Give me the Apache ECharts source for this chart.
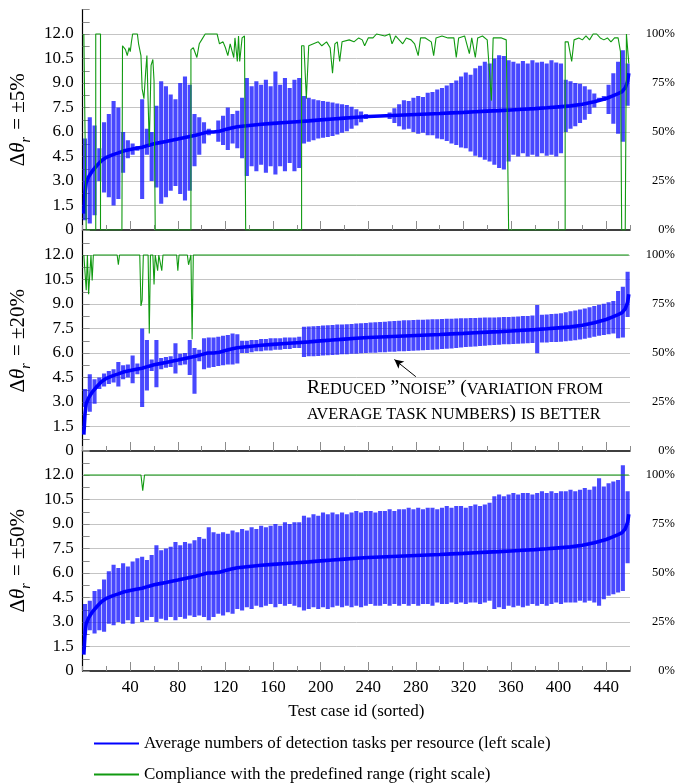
<!DOCTYPE html>
<html>
<head>
<meta charset="utf-8">
<script src="https://cdn.jsdelivr.net/npm/echarts@6/dist/echarts.min.js"></script>
<style>
  html, body { margin: 0; padding: 0; background: #fff; }
  #chart { width: 678px; height: 783px; }
</style>
</head>
<body>
<div id="chart"></div>
<script>
// ---- x axis: test case ids (sorted by average task count) ----
const xTickLabels = [40, 80, 120, 160, 200, 240, 280, 320, 360, 400, 440];

// ---- average number of detection tasks per resource (same test set in every panel) ----
const avgIds = [1, 2, 3, 5, 8, 12, 16, 20, 25, 30, 35, 40, 45, 50, 55, 60, 65, 70, 75, 80, 85, 90, 95, 100, 105,
  110, 115, 120, 125, 130, 140, 150, 160, 170, 180, 190, 200, 210, 220, 230, 240, 250, 260, 270, 280, 290, 300,
  310, 320, 330, 340, 350, 360, 370, 380, 390, 400, 410, 420, 430, 440, 445, 450, 453, 456, 458, 459];
const avgTasks = [1.0, 2.3, 2.9, 3.25, 3.6, 3.95, 4.25, 4.45, 4.6, 4.72, 4.85, 4.93, 5.0, 5.07, 5.18, 5.28, 5.35,
  5.42, 5.5, 5.57, 5.65, 5.73, 5.8, 5.9, 6.0, 6.0, 6.05, 6.15, 6.25, 6.32, 6.4, 6.47, 6.53, 6.58, 6.63, 6.68, 6.74,
  6.8, 6.85, 6.9, 6.95, 6.98, 7.01, 7.04, 7.07, 7.1, 7.13, 7.17, 7.2, 7.24, 7.28, 7.31, 7.35, 7.39, 7.43, 7.48,
  7.54, 7.6, 7.7, 7.85, 8.05, 8.2, 8.35, 8.45, 8.7, 9.1, 9.6];

// ---- variation bars (min / max task count) ----
const barIds = [2, 6, 10, 14, 18, 22, 26, 30, 34, 38, 42, 46, 50, 54, 58, 62, 66, 70, 74, 78, 82, 86, 90, 94, 98,
  102, 106, 110, 114, 118, 122, 126, 130, 134, 138, 142, 146, 150, 154, 158, 162, 166, 170, 174, 178, 182, 186,
  190, 194, 198, 202, 206, 210, 214, 218, 222, 226, 230, 234, 238, 242, 246, 250, 254, 258, 262, 266, 270, 274,
  278, 282, 286, 290, 294, 298, 302, 306, 310, 314, 318, 322, 326, 330, 334, 338, 342, 346, 350, 354, 358, 362,
  366, 370, 374, 378, 382, 386, 390, 394, 398, 402, 406, 410, 414, 418, 422, 426, 430, 434, 438, 442, 446, 450,
  454, 458];

// range +-5 %
const low5 = [0.6, 0.4, 0.9, 3.0, 2.3, 2.0, 1.5, 1.9, 3.5, 4.4,
  4.6, 4.85, 1.9, 4.6, 3.0, 2.6, 1.6, 2.0, 2.4, 2.7,
  2.2, 1.8, 2.4, 3.9, 4.6, 5.3, 5.8, 5.95, 5.4, 5.2,
  4.9, 5.3, 5.0, 4.4, 3.3, 3.9, 3.6, 4.0, 3.5, 3.9,
  3.4, 3.9, 3.6, 4.1, 3.6, 3.8, 5.3, 5.4, 5.5, 5.6,
  5.65, 5.7, 5.75, 5.85, 5.95, 6.05, 6.2, 6.4, 6.6, 6.8,
  6.93, null, null, null, 6.8, 6.55, 6.35, 6.15, 6.2, 6.0,
  5.9, 5.95, 5.8, 5.8, 5.6, 5.55, 5.45, 5.3, 5.2, 5.05,
  5.0, 4.8, 4.55, 4.45, 4.3, 4.2, 4.0, 3.8, 3.7, 4.2,
  4.6, 4.5, 4.7, 4.5, 4.6, 4.5, 4.7, 4.55, 4.6, 4.5,
  4.7, 6.0, 6.2, 6.35, 6.55, 6.75, 7.1, 7.5, 7.95, 7.9,
  7.1, 6.5, 5.9, 5.4, 7.6];
const high5 = [5.6, 6.9, 6.4, 5.0, 6.6, 7.1, 7.9, 7.5, 6.0, 5.5,
  5.3, 5.15, 8.0, 6.2, 6.0, 7.6, 9.1, 8.8, 8.3, 8.0,
  9.0, 9.4, 8.9, 7.1, 6.9, 6.6, 6.2, 6.05, 6.7, 7.0,
  7.5, 7.1, 7.3, 8.1, 9.3, 8.8, 9.1, 8.9, 9.2, 8.8,
  9.7, 8.9, 9.3, 8.7, 9.2, 9.3, 8.2, 8.1, 8.0, 7.95,
  7.9, 7.85, 7.8, 7.75, 7.7, 7.65, 7.55, 7.4, 7.25, 7.1,
  7.0, null, null, null, 7.2, 7.45, 7.7, 7.95, 7.9, 8.1,
  8.2, 8.15, 8.4, 8.45, 8.6, 8.7, 8.85, 9.0, 9.15, 9.4,
  9.65, 9.5, 9.9, 10.05, 10.3, 10.2, 10.5, 10.7, 10.65, 10.4,
  10.3, 10.2, 10.35, 10.2, 10.4, 10.25, 10.3, 10.2, 10.4, 10.25,
  10.2, 9.2, 9.1, 9.0, 8.95, 8.8, 8.6, 8.35, 8.1, 8.2,
  8.9, 9.6, 10.3, 11.0, 10.2];

// range +-20 %
const low20 = [2.7, 2.4, 2.9, 3.8, 3.95, 4.1, 4.2, 3.95, 4.4, 4.5,
  4.15, 4.7, 2.7, 3.7, 4.9, 3.9, 5.0, 5.1, 5.15, 4.75,
  5.25, 5.3, 4.65, 3.5, 5.5, 5.0, 5.1, 5.15, 5.2, 5.25,
  5.3, 5.3, 5.35, 6.0, 6.0, 6.05, 6.1, 6.1, 6.15, 6.15,
  6.2, 6.2, 6.25, 6.25, 6.3, 6.3, 5.75, 5.8, 5.8, 5.82,
  5.84, 5.86, 5.88, 5.9, 5.92, 5.93, 5.95, 5.96, 5.98, 6.0,
  6.01, 6.02, 6.04, 6.05, 6.07, 6.08, 6.1, 6.11, 6.12, 6.14,
  6.15, 6.17, 6.18, 6.2, 6.22, 6.24, 6.26, 6.28, 6.31, 6.34,
  6.36, 6.38, 6.4, 6.43, 6.45, 6.47, 6.49, 6.51, 6.53, 6.54,
  6.55, 6.57, 6.58, 6.59, 6.61, 5.98, 6.64, 6.65, 6.67, 6.68,
  6.69, 6.72, 6.75, 6.78, 6.82, 6.87, 6.93, 7.0, 7.05, 7.1,
  7.15, 7.2, 6.9, 6.95, 8.2];
const high20 = [3.8, 4.7, 4.4, 4.5, 4.75, 4.9, 5.0, 5.45, 5.25, 5.3,
  5.85, 5.35, 7.5, 6.8, 5.6, 6.8, 5.7, 5.75, 5.8, 6.6,
  5.95, 6.0, 6.8, 6.3, 6.2, 6.9, 6.95, 6.95, 7.0, 7.05,
  7.1, 7.2, 7.15, 6.75, 6.75, 6.8, 6.8, 6.85, 6.85, 6.9,
  6.9, 6.9, 6.95, 6.95, 6.95, 7.0, 7.6, 7.62, 7.64, 7.66,
  7.68, 7.7, 7.72, 7.74, 7.75, 7.76, 7.78, 7.8, 7.82, 7.84,
  7.86, 7.88, 7.9, 7.92, 7.94, 7.96, 7.98, 8.0, 8.01, 8.02,
  8.03, 8.04, 8.05, 8.06, 8.07, 8.08, 8.09, 8.1, 8.11, 8.12,
  8.13, 8.14, 8.15, 8.16, 8.17, 8.17, 8.18, 8.19, 8.2, 8.21,
  8.22, 8.24, 8.26, 8.27, 8.29, 8.94, 8.34, 8.36, 8.39, 8.41,
  8.43, 8.5, 8.55, 8.6, 8.66, 8.73, 8.8, 8.88, 8.95, 9.02,
  9.1, 9.18, 9.8, 10.05, 10.98];

// range +-50 %
const low50 = [2.2, 2.5, 2.3, 2.5, 2.4, 2.9, 2.8, 3.0, 2.9, 3.1,
  2.9, 3.3, 3.0, 3.1, 3.3, 3.0, 3.2, 3.1, 3.3, 3.1,
  3.3, 3.2, 3.4, 3.3, 3.4, 3.3, 3.1, 3.3, 3.5, 3.4,
  3.6, 3.5, 3.8, 3.7, 3.9, 3.8, 4.0, 3.9, 4.0, 4.1,
  3.9, 4.1, 4.0, 4.1, 4.0, 3.9, 3.7, 3.8, 3.9, 3.8,
  3.9, 3.8, 3.9, 4.0, 3.9, 4.0, 3.9, 4.0, 3.9, 4.0,
  4.1, 4.0, 4.0, 4.1, 4.0, 4.1, 4.0, 4.1, 4.0, 4.1,
  4.0, 4.1, 4.1, 4.0, 4.2, 4.1, 4.1, 4.2, 4.1, 4.2,
  4.1, 4.2, 4.2, 4.1, 4.2, 4.3, 3.8, 3.9, 3.8, 4.0,
  3.9, 4.0, 3.9, 4.0, 4.1, 4.0, 4.1, 4.0, 4.1, 4.2,
  4.1, 4.2, 4.2, 4.2, 4.3, 4.2, 4.3, 4.2, 4.0, 4.4,
  4.6, 4.7, 4.8, 4.9, 6.6];
const high50 = [4.1, 4.3, 4.9, 5.0, 5.6, 6.1, 6.5, 6.3, 6.6, 6.4,
  6.7, 6.9, 7.0, 6.8, 7.1, 7.7, 7.4, 7.5, 7.6, 7.9,
  7.7, 7.9, 7.8, 8.0, 8.2, 8.1, 8.8, 8.5, 8.4, 8.5,
  8.4, 8.6, 8.5, 8.7, 8.6, 8.8, 8.7, 8.9, 8.8, 8.9,
  9.0, 8.9, 9.1, 9.0, 9.1, 9.1, 9.5, 9.4, 9.6, 9.5,
  9.7, 9.6, 9.7, 9.6, 9.7, 9.6, 9.7, 9.8, 9.7, 9.8,
  9.8, 9.7, 9.8, 9.8, 9.9, 9.8, 9.9, 9.9, 10.0, 9.9,
  10.0, 9.9, 10.0, 10.0, 9.9, 10.0, 10.1, 10.0, 10.1, 10.1,
  10.0, 10.1, 10.2, 10.1, 10.2, 10.3, 10.7, 10.8, 10.7, 10.8,
  10.9, 10.8, 10.9, 10.9, 10.8, 10.9, 11.0, 10.9, 11.0, 10.9,
  11.0, 11.0, 11.1, 11.0, 11.1, 11.2, 11.1, 11.3, 11.8, 11.3,
  11.5, 11.6, 11.7, 12.6, 11.0];

// ---- compliance with the predefined range, [test case id, percent] ----
const compliance5 = [[1, 100], [2, 100], [3, 0], [11, 0], [11, 100], [15, 100], [15, 0], [33, 0], [33.5, 94],
  [36, 92], [37.5, 89], [39, 93], [40, 91], [41, 96], [42, 100], [46, 100], [47, 95], [49, 89], [50, 72],
  [51.5, 67], [53, 81], [54, 89], [56, 43], [57.5, 84], [59, 87], [60, 76], [61, 0], [91, 0], [91, 92], [93, 93],
  [96, 88], [98, 95], [100, 97], [103, 100], [113, 100], [115, 95], [118, 96], [120, 93], [122, 89], [124, 95],
  [127, 88], [128, 98], [130, 86], [131, 99], [132, 86], [134, 98], [136, 99], [137, 0], [184, 0], [184, 94],
  [186, 94], [188, 67], [190, 94], [194, 95], [198, 96], [201, 94], [205, 96], [208, 93], [210, 80], [212, 95],
  [214, 96], [216, 86], [218, 96], [224, 97], [228, 96], [232, 98], [235, 97], [237, 94], [240, 98], [244, 98],
  [247, 100], [254, 99], [258, 100], [260, 95], [263, 99], [266, 97], [269, 95], [272, 98], [276, 97], [279, 95],
  [282, 89], [284, 98], [288, 98], [293, 96], [295, 89], [297, 98], [302, 99], [307, 98], [312, 98], [314, 88],
  [316, 98], [321, 99], [325, 90], [327, 98], [330, 88], [332, 98], [336, 99], [340, 97], [342, 80], [343.5, 66],
  [345, 98], [348, 98], [352, 98], [356, 97], [358, 0], [405.5, 0], [405.5, 96], [408, 96], [411, 86], [413, 97],
  [417, 98], [420, 97], [423, 99], [426, 97], [429, 100], [432, 100], [435, 98], [438, 97], [441, 98], [444, 96],
  [447, 98], [450, 98], [452, 91], [453, 0], [456, 0], [457, 100], [458, 100], [459, 85]];
const compliance20 = [[1, 100], [2, 100], [3, 82], [4, 100], [5, 80], [6, 80], [7, 100], [8, 87], [9, 100],
  [29, 100], [30, 95], [31, 100], [48, 100], [49, 74], [50, 77], [51, 100], [55, 100], [56, 60], [57, 100],
  [59, 100], [60, 85], [61, 100], [62, 100], [63, 92], [64, 100], [65.5, 100], [66.5, 92], [67.5, 100],
  [79, 100], [80, 92], [81, 100], [88, 100], [89, 95], [91, 100], [92, 57], [93, 100], [459, 100]];
const compliance50 = [[1, 100], [49, 100], [50.5, 92], [52, 100], [459, 100]];

// ---- drawing ----
const SERIF = 'Liberation Serif';
const LINE_NAME = 'Average numbers of detection tasks per resource (left scale)';
const COMP_NAME = 'Compliance with the predefined range (right scale)';
const BLUE = '#0000ff';
const BAR_FILL = 'rgba(20,20,255,0.78)';
const GREEN = '#119a11';

const panels = [
  { range: '5%', low: low5, high: high5, comp: compliance5, top: 9.5 },
  { range: '20%', low: low20, high: high20, comp: compliance20, top: 230.5 },
  { range: '50%', low: low50, high: high50, comp: compliance50, top: 450.5 }
];

function renderBar(params, api) {
  const id = api.value(0);
  const hiPt = api.coord([id, api.value(2)]);
  const loPt = api.coord([id, api.value(1)]);
  const w = 4.1;
  return {
    type: 'rect',
    shape: { x: hiPt[0] - w / 2, y: hiPt[1], width: w, height: loPt[1] - hiPt[1] },
    style: { fill: BAR_FILL }
  };
}

const grids = [], xAxes = [], yAxes = [], series = [];
const avgData = avgIds.map((id, k) => [id, avgTasks[k]]);

panels.forEach((p, i) => {
  const last = i === panels.length - 1;
  grids.push({ left: 81.5, right: 46, top: p.top, height: 220.5 });

  // fine ticks every 20 ids
  xAxes.push({
    type: 'value', gridIndex: i, position: 'bottom', min: 0, max: 460, interval: 20,
    axisLine: { show: true, lineStyle: { color: '#000', width: 1.5 } },
    axisTick: { show: true, inside: true, length: 5, lineStyle: { color: '#8c8c8c' } },
    axisLabel: { show: false },
    splitLine: { show: false },
    name: last ? 'Test case id (sorted)' : '',
    nameLocation: 'middle', nameGap: 32,
    nameTextStyle: { fontFamily: SERIF, fontSize: 17, color: '#000' }
  });
  // labelled ticks every 40 ids
  xAxes.push({
    type: 'value', gridIndex: i, position: 'bottom', min: 0, max: 460, interval: 40,
    axisLine: { show: false },
    axisTick: { show: true, inside: true, length: 9, customValues: xTickLabels, lineStyle: { color: '#8c8c8c' } },
    axisLabel: {
      show: last, margin: 8, customValues: xTickLabels,
      fontFamily: SERIF, fontSize: 17, color: '#000',
      formatter: v => (xTickLabels.indexOf(v) >= 0 ? String(v) : '')
    },
    splitLine: { show: false }
  });

  yAxes.push({
    type: 'value', gridIndex: i, position: 'left', min: 0, max: 13.5, interval: 1.5,
    axisLine: { show: true, lineStyle: { color: '#000', width: 1.2 } },
    axisTick: { show: true, inside: true, length: 7, lineStyle: { color: '#8c8c8c' } },
    minorTick: { show: true, splitNumber: 2, length: 7, lineStyle: { color: '#8c8c8c' } },
    axisLabel: {
      margin: 9, fontFamily: SERIF, fontSize: 17, color: '#000',
      formatter: v => (v === 0 ? '0' : v > 12.01 ? '' : v.toFixed(1))
    },
    splitLine: { show: true, showMinLine: false, showMaxLine: false, lineStyle: { color: '#c4c4c4', width: 1 } },
    name: `{d|Δ}{t|θ}{s|r}{d| = ±${p.range}}`,
    nameLocation: 'middle', nameRotate: 90, nameGap: 43,
    nameTextStyle: {
      fontFamily: SERIF, fontSize: 21, color: '#000',
      rich: {
        d: { fontFamily: SERIF, fontSize: 21, color: '#000', verticalAlign: 'bottom', padding: [0, 0, 4, 0] },
        t: { fontFamily: SERIF, fontSize: 21, fontStyle: 'italic', color: '#000', verticalAlign: 'bottom', padding: [0, 0, 4, 0] },
        s: { fontFamily: SERIF, fontSize: 14, fontStyle: 'italic', color: '#000', verticalAlign: 'bottom', padding: [0, 2, 0, 0] }
      }
    }
  });
  yAxes.push({
    type: 'value', gridIndex: i, position: 'right', min: 0, max: 112.5, interval: 25,
    axisLine: { show: false }, axisTick: { show: false },
    axisLabel: {
      margin: 45, align: 'right', fontFamily: SERIF, fontSize: 12.5, color: '#000',
      formatter: v => (v > 100.01 ? '' : v + '%')
    },
    splitLine: { show: false }
  });

  series.push({
    type: 'custom', xAxisIndex: 2 * i, yAxisIndex: 2 * i, clip: true, silent: true, z: 2,
    renderItem: renderBar,
    data: barIds.map((id, k) => (p.low[k] == null ? null : [id, p.low[k], p.high[k]])).filter(d => d)
  });
  const avgSeries = {
    name: LINE_NAME, type: 'line', xAxisIndex: 2 * i, yAxisIndex: 2 * i, z: 3,
    symbol: 'none', clip: true, data: avgData,
    lineStyle: { color: BLUE, width: 3.6 }, itemStyle: { color: BLUE }
  };
  if (i === 1) {
    avgSeries.markLine = {
      silent: true, symbol: ['none', 'arrow'], symbolSize: [7, 9],
      label: { show: false },
      lineStyle: { color: '#000', width: 1, type: 'solid' },
      data: [[{ coord: [280, 4.55] }, { coord: [262, 5.6] }]]
    };
  }
  series.push(avgSeries);
  series.push({
    name: COMP_NAME, type: 'line', xAxisIndex: 2 * i, yAxisIndex: 2 * i + 1, z: 4,
    symbol: 'none', clip: true, data: p.comp,
    lineStyle: { color: GREEN, width: 1.1 }, itemStyle: { color: GREEN }
  });
});

const noteRich = {
  b: { fontFamily: SERIF, fontSize: 19.5, color: '#000', verticalAlign: 'bottom' },
  s: { fontFamily: SERIF, fontSize: 16.2, color: '#000', verticalAlign: 'bottom' }
};

function legendFor(name, top) {
  return {
    data: [{ name: name, itemStyle: { opacity: 0 } }],
    orient: 'vertical', left: 88, top: top,
    itemWidth: 45, itemHeight: 14, selectedMode: false,
    textStyle: { fontFamily: SERIF, fontSize: 17, color: '#000' }
  };
}

const chart = echarts.init(document.getElementById('chart'), null, { renderer: 'canvas' });
chart.setOption({
  animation: false,
  backgroundColor: '#fff',
  grid: grids,
  xAxis: xAxes,
  yAxis: yAxes,
  series: series,
  legend: [legendFor(LINE_NAME, 730), legendFor(COMP_NAME, 761)],
  graphic: [
    {
      type: 'text', left: 307, top: 378, silent: true,
      style: { text: '{b|R}{s|EDUCED}{b| ”}{s|NOISE}{b|” (}{s|VARIATION FROM}', rich: noteRich }
    },
    {
      type: 'text', left: 307, top: 403, silent: true,
      style: { text: '{s|AVERAGE TASK NUMBERS}{b|) }{s|IS BETTER}', rich: noteRich }
    }
  ]
});
</script>
</body>
</html>
